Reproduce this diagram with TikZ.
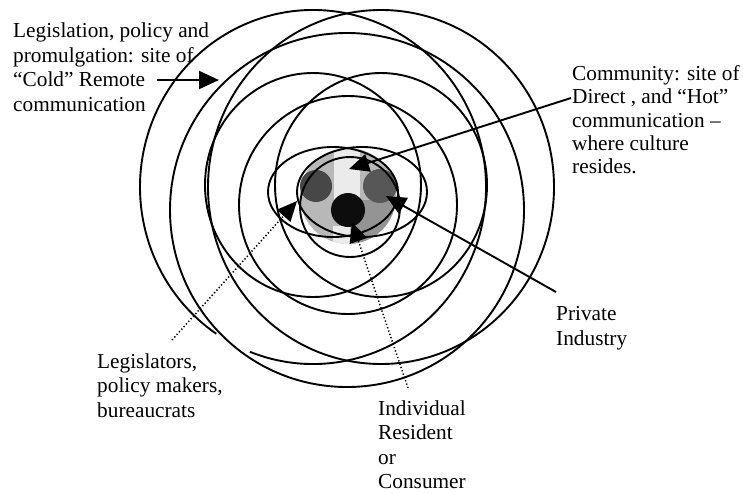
\documentclass[tikz,border=0pt]{standalone}
\usepackage{fontspec}
\setmainfont{Liberation Serif}
\usetikzlibrary{arrows.meta}
\tikzset{
  ring/.style={draw=black, line width=1.9pt},
  lbl/.style={anchor=north west, align=left, inner sep=0pt, font=\fontsize{21.3}{#1}\selectfont},
  lbl/.default=24.4,
  solidarrow/.style={line width=1.9pt, -{Triangle[length=20pt,width=18pt]}},
  dotarrow/.style={line width=1.5pt, dash pattern=on 1.3pt off 2.2pt, -{Triangle[length=20pt,width=18pt]}},
}
\begin{document}
\begin{tikzpicture}[x=1pt,y=-1pt]
\useasboundingbox (0,0) rectangle (743,493);

% shaded centre
\fill[black!28] (348,196) circle [radius=48];
\begin{scope}
  \clip (348,196) circle [radius=48];
  \fill[black!42] (352,200) rectangle (400,250);
  \fill[black!8] (334,140) rectangle (360,212);
  \fill[black!8] (333,226) rectangle (350,250);
\end{scope}
\fill[black!72] (316,186) circle [radius=16];
\fill[black!66] (380,186) circle [radius=17];
\fill[black!95] (348,210) circle [radius=17];

% rings
\draw[ring] (313,187) ++(111.4:173 and 177) arc [start angle=111.4, end angle=-236, x radius=173, y radius=177];
\draw[ring] (381,187) ellipse [x radius=173, y radius=177];
\draw[ring] (347,210) circle [radius=177];
\draw[ring] (313,185) ellipse [x radius=108, y radius=112];
\draw[ring] (381,185) ellipse [x radius=106, y radius=112];
\draw[ring] (348,205) circle [radius=109];
\draw[ring] (333,192) ellipse [x radius=65, y radius=45];
\draw[ring] (362,192) ellipse [x radius=65, y radius=45];
\draw[ring] (350,207) circle [radius=50];

% labels
\node[lbl] (legis) at (13,23) {Legislation, policy and\\promulgation: site of\\“Cold” Remote\\communication};
\node[lbl=23.2] (commu) at (572,65.5) {Community: site of\\Direct , and “Hot”\\communication –\\where culture\\resides.};
\node[lbl=25] (priv) at (556,306) {Private\\Industry};
\node[lbl] (legi) at (97,353.5) {Legislators,\\policy makers,\\bureaucrats};
\node[lbl] (indiv) at (378,400.5) {Individual\\Resident\\or\\Consumer};

% connectors
\coordinate (remS) at (157,80);
\coordinate (remT) at (219,80);
\coordinate (comS) at (571,98);
\coordinate (comT) at (349,169);
\coordinate (priS) at (556,292);
\coordinate (priT) at (386,196);
\coordinate (legS) at (172,340);
\coordinate (legT) at (297,201);
\coordinate (indS) at (408,388);
\coordinate (indT) at (352,222);

\draw[solidarrow] (remS) -- (remT);
\draw[solidarrow] (comS) -- (comT);
\draw[solidarrow] (priS) -- (priT);
\draw[dotarrow] (legS) -- (legT);
\draw[dotarrow] (indS) -- (indT);
\end{tikzpicture}
\end{document}
